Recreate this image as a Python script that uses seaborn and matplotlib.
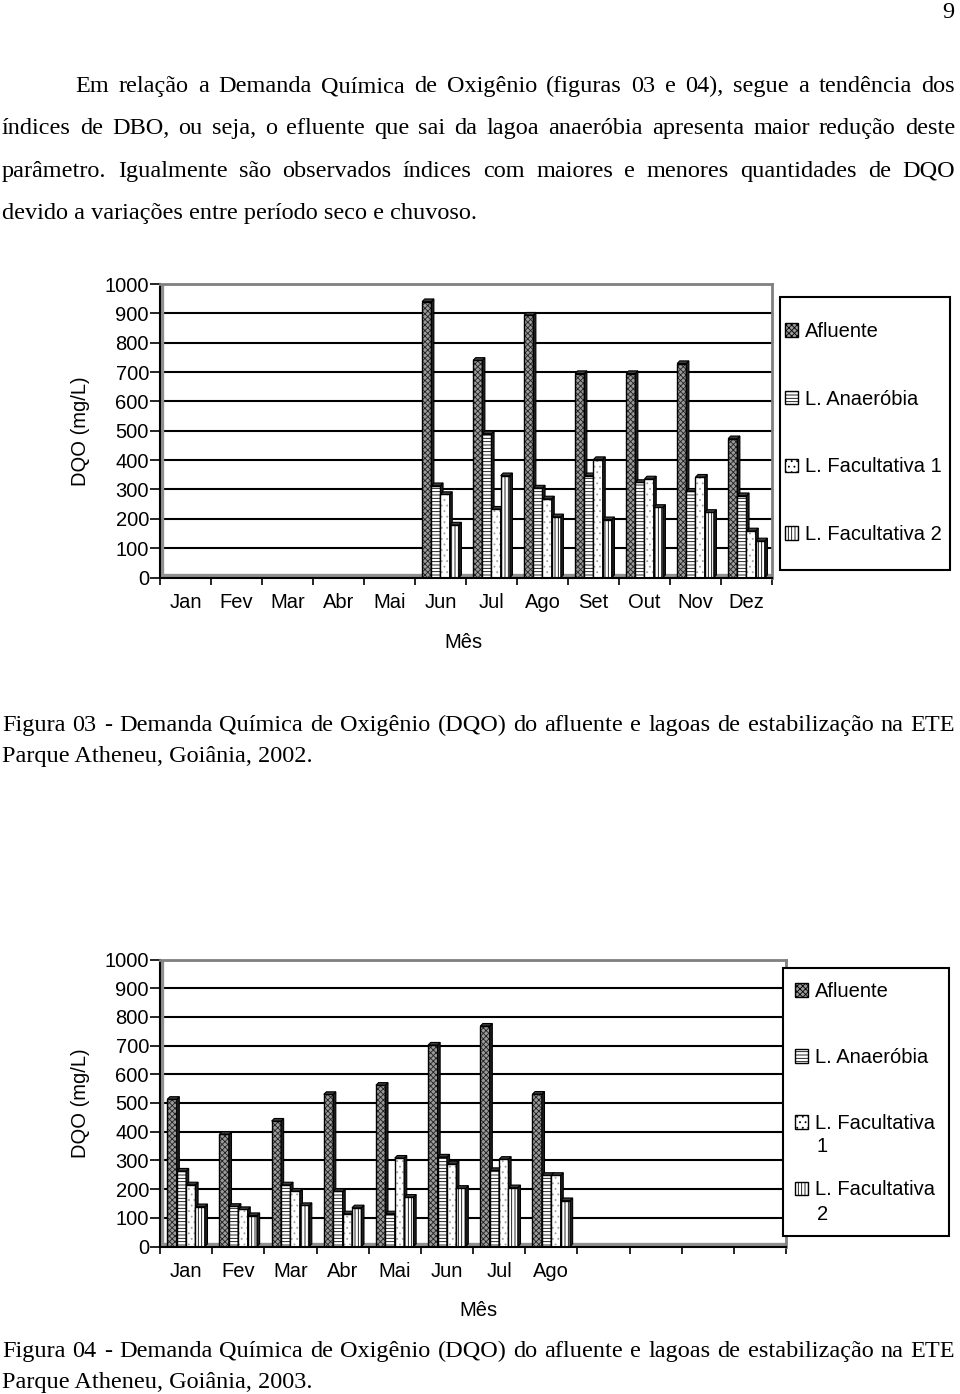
import unicodedata
import numpy as np
import pandas as pd
import matplotlib
matplotlib.use("Agg")
import matplotlib.pyplot as plt
import matplotlib.patches as mpatches
from matplotlib.patches import Polygon, Rectangle
import seaborn as sns

# ---------------- data ----------------
months = ['Jan', 'Fev', 'Mar', 'Abr', 'Mai', 'Jun', 'Jul', 'Ago', 'Set', 'Out', 'Nov', 'Dez']
series = ['Afluente', 'L. Anaeróbia', 'L. Facultativa 1', 'L. Facultativa 2']

months_2002 = ['Jun', 'Jul', 'Ago', 'Set', 'Out', 'Nov', 'Dez']
afluente_2002 = [940, 740, 894, 695, 695, 729, 473]
anaerobia_2002 = [313, 490, 305, 347, 324, 294, 279]
facult1_2002 = [283, 233, 268, 402, 336, 342, 159]
facult2_2002 = [179, 347, 207, 197, 239, 222, 125]

months_2003 = ['Jan', 'Fev', 'Mar', 'Abr', 'Mai', 'Jun', 'Jul', 'Ago']
afluente_2003 = [513, 391, 437, 530, 562, 702, 768, 531]
anaerobia_2003 = [263, 140, 215, 192, 114, 312, 265, 248]
facult1_2003 = [215, 129, 193, 114, 308, 288, 304, 248]
facult2_2003 = [139, 108, 143, 135, 172, 203, 205, 160]

xticklabels_2002 = months
xticklabels_2003 = months[:8] + ['', '', '', '']
yticks = list(range(0, 1001, 100))

paragraph = [
    "Em relação a Demanda Química de Oxigênio (figuras 03 e 04), segue a tendência dos",
    "índices de DBO, ou seja, o efluente que sai da lagoa anaeróbia apresenta maior redução deste",
    "parâmetro. Igualmente são observados índices com maiores e menores quantidades de DQO",
    "devido a variações entre período seco e chuvoso.",
]
caption1 = ["Figura 03 - Demanda Química de Oxigênio (DQO) do afluente e lagoas de estabilização na ETE",
            "Parque Atheneu, Goiânia, 2002."]
caption2 = ["Figura 04 - Demanda Química de Oxigênio (DQO) do afluente e lagoas de estabilização na ETE",
            "Parque Atheneu, Goiânia, 2003."]

# ---------------- style ----------------
sns.set_theme(style="white", rc={"text.color": "black", "axes.labelcolor": "black",
                                 "xtick.color": "black", "ytick.color": "black"})
plt.rcParams['font.family'] = ['Liberation Sans', 'DejaVu Sans']
plt.rcParams['hatch.linewidth'] = 0.6
SERIF = ['Liberation Serif', 'DejaVu Serif']
CFS = 14.5  # chart font size

styles = {
    'Afluente':         dict(fc='#9a9a9a', hc='#202020', hatch='xxxxxx'),
    'L. Anaeróbia':     dict(fc='#ffffff', hc='#000000', hatch='-----'),
    'L. Facultativa 1': dict(fc='#ffffff', hc='#a0a0a0', hatch='...'),
    'L. Facultativa 2': dict(fc='#ffffff', hc='#000000', hatch='|||||'),
}

W, H = 960, 1394
fig = plt.figure(figsize=(W / 100, H / 100), dpi=100)
fig.patch.set_facecolor('white')


def long_df(ms, values):
    rows = []
    for s, vals in zip(series, values):
        for m, v in zip(ms, vals):
            rows.append((m, s, v))
    return pd.DataFrame(rows, columns=['Mês', 'Série', 'DQO'])


df1 = long_df(months_2002, [afluente_2002, anaerobia_2002, facult1_2002, facult2_2002])
df2 = long_df(months_2003, [afluente_2003, anaerobia_2003, facult1_2003, facult2_2003])

ax1 = fig.add_axes([160 / W, 1 - 577.5 / H, 612 / W, 293.5 / H])
ax2 = fig.add_axes([160 / W, 1 - 1246.5 / H, 626 / W, 287 / H])

pal = {s: '#888888' for s in series}


def draw(ax, df, ticklabels):
    sns.barplot(data=df, x='Mês', y='DQO', hue='Série', order=months, hue_order=series,
                width=0.72, errorbar=None, legend=False, saturation=1, palette=pal, ax=ax)
    dx, dy = 0.05, 9
    for k, cont in enumerate(ax.containers):
        st = styles[series[k]]
        z = 2 + k * 0.1
        for p in cont.patches:
            x, w, h = p.get_x(), p.get_width(), p.get_height()
            if not np.isfinite(h) or h <= 0:
                continue
            p.set_facecolor(st['fc'])
            p.set_edgecolor(st['hc'])
            p.set_hatch(st['hatch'])
            p.set_linewidth(0)
            p.set_zorder(z)
            ax.add_patch(Rectangle((x, 0), w, h, fill=False, edgecolor='black', lw=1.0, zorder=z + 0.01))
            ax.add_patch(Polygon([(x + w, 0), (x + w + dx, dy), (x + w + dx, h + dy), (x + w, h)],
                                 closed=True, facecolor='#1e1e1e', edgecolor='black', lw=0.8,
                                 zorder=z + 0.02))
            ax.add_patch(Polygon([(x, h), (x + dx, h + dy), (x + w + dx, h + dy), (x + w, h)],
                                 closed=True, facecolor='#3c3c3c', edgecolor='black', lw=0.8,
                                 zorder=z + 0.02))
    ax.set_xlim(-0.5, 11.5)
    ax.set_ylim(0, 1000)
    ax.set_yticks(yticks)
    ax.set_yticklabels([str(t) for t in yticks], fontsize=CFS)
    ax.yaxis.grid(True, color='black', lw=1.5)
    ax.xaxis.grid(False)
    ax.set_axisbelow(True)
    ax.set_xticks(np.arange(-0.5, 12, 1))
    ax.set_xticklabels([])
    ax.set_xticks(np.arange(12), minor=True)
    ax.set_xticklabels(ticklabels, minor=True, fontsize=CFS)
    ax.tick_params(axis='x', which='major', direction='out', length=5, width=1.2, bottom=True)
    ax.tick_params(axis='x', which='minor', length=0, pad=11, bottom=True)
    ax.tick_params(axis='y', direction='out', length=7, width=1.2, left=True, pad=1)
    for s in ['top', 'right']:
        ax.spines[s].set_color('#808080')
        ax.spines[s].set_linewidth(2)
    for s in ['left', 'bottom']:
        ax.spines[s].set_color('black')
        ax.spines[s].set_linewidth(1.5)
    # 3-D floor and wall
    ax.axhline(0, color='#909090', lw=6, zorder=1.5)
    ax.axvline(-0.5, color='#909090', lw=6, zorder=1.5)
    ax.set_ylabel('DQO (mg/L)', fontsize=CFS)
    ax.set_xlabel('Mês', fontsize=CFS)


draw(ax1, df1, xticklabels_2002)
draw(ax2, df2, xticklabels_2003)

ax1.yaxis.set_label_coords((90 - 160) / 612, 0.5)
ax2.yaxis.set_label_coords((90 - 160) / 626, 0.5)
ax1.xaxis.set_label_coords((463 - 160) / 612, (577 - 632) / 293.5)
ax2.xaxis.set_label_coords((478 - 160) / 626, (1246 - 1300) / 287)


def handles():
    hs = []
    for s in series:
        st = styles[s]
        hs.append(mpatches.Patch(facecolor=st['fc'], edgecolor='black', hatch=st['hatch'], lw=1.0))
    return hs


leg_kw = dict(prop={'size': CFS}, handlelength=0.65, handleheight=0.65, handletextpad=0.35,
              borderpad=0, borderaxespad=0, frameon=False)

# legend of the first chart
fig.add_artist(Rectangle((780 / W, 1 - 570 / H), 170 / W, 273 / H, transform=fig.transFigure,
                         facecolor='white', edgecolor='black', lw=1.5, zorder=4))
leg1 = fig.legend(handles(), series, loc='upper left', bbox_to_anchor=(785 / W, 1 - 322 / H),
                  labelspacing=2.42, **leg_kw)
leg1.set_zorder(5)

# legend of the second chart (two-line labels)
fig.add_artist(Rectangle((783 / W, 1 - 1236 / H), 166 / W, 268 / H, transform=fig.transFigure,
                         facecolor='white', edgecolor='black', lw=1.5, zorder=4))
labels2 = ['Afluente', 'L. Anaeróbia', 'L. Facultativa', 'L. Facultativa']
leg2 = fig.legend(handles(), labels2, loc='upper left', bbox_to_anchor=(795 / W, 1 - 982 / H),
                  labelspacing=2.34, **leg_kw)
leg2.set_zorder(5)
fig.text(817 / W, 1 - 1147 / H, '1', fontsize=CFS, va='center', ha='left', zorder=6)
fig.text(817 / W, 1 - 1214 / H, '2', fontsize=CFS, va='center', ha='left', zorder=6)

# ---------------- document text ----------------
renderer = fig.canvas.get_renderer()
FS0 = 17.5


def nfc(s):
    return unicodedata.normalize('NFC', s)


def natural_width(s, fs):
    t = fig.text(0, 0, nfc(s), fontsize=fs, family=SERIF)
    w = t.get_window_extent(renderer).width
    t.remove()
    return w


just_lines = [(paragraph[0], 75), (paragraph[1], 2), (paragraph[2], 2), (caption1[0], 2)]
fit = min((955 - x0) / natural_width(s, FS0) for s, x0 in just_lines)
FS = min(FS0, FS0 * fit * 0.985)


def put_line(s, x0, y, justify, x1=955):
    s = nfc(s)
    if not justify:
        fig.text(x0 / W, 1 - y / H, s, fontsize=FS, family=SERIF, va='baseline', ha='left')
        return
    words = s.split(' ')
    arts = [fig.text(0, 0, w, fontsize=FS, family=SERIF, va='baseline', ha='left') for w in words]
    widths = [a.get_window_extent(renderer).width for a in arts]
    gap = (x1 - x0 - sum(widths)) / (len(words) - 1)
    x = x0
    for a, w in zip(arts, widths):
        a.set_position((x / W, 1 - y / H))
        x += w + gap


fig.text(954 / W, 1 - 18 / H, '9', fontsize=FS, family=SERIF, va='baseline', ha='right')
put_line(paragraph[0], 75, 92, True)
put_line(paragraph[1], 2, 134, True)
put_line(paragraph[2], 2, 177, True)
put_line(paragraph[3], 2, 219, False)
put_line(caption1[0], 2, 731, True)
put_line(caption1[1], 2, 762, False)
put_line(caption2[0], 2, 1357, True)
put_line(caption2[1], 2, 1388, False)

fig.savefig('out.png', dpi=100, facecolor='white')
